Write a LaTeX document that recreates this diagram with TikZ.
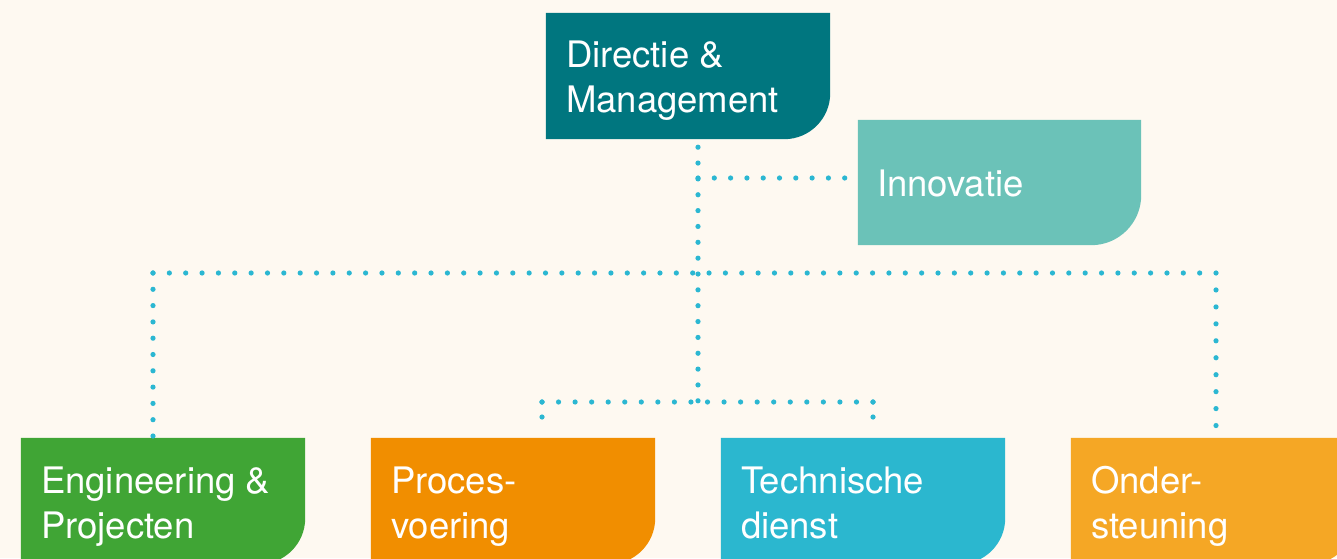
\documentclass[tikz,border=0pt]{standalone}
\usepackage{fontspec}
\setmainfont{TeX Gyre Heros}
\definecolor{bgc}{HTML}{FEF9F1}
\definecolor{dirc}{HTML}{00767F}
\definecolor{innc}{HTML}{6BC2B8}
\definecolor{engc}{HTML}{40A535}
\definecolor{proc}{HTML}{F18E00}
\definecolor{tecc}{HTML}{2BB7CF}
\definecolor{ondc}{HTML}{F5A725}
\definecolor{dotc}{HTML}{2BB7D2}
\newcommand{\orgshape}[3]{%
  \fill[#2] (#1.north west) -- (#1.north east) -- ([yshift=#3]#1.south east)
    arc[start angle=0,end angle=-90,radius=#3] -- (#1.south west) -- cycle;}
\begin{document}
\begin{tikzpicture}[x=1pt,y=1pt,
  orgbox/.style={rectangle,inner sep=0pt,minimum width=284pt,minimum height=126pt},
  txt/.style={anchor=north west,inner sep=0pt,align=left,text=white,
    font=\fontsize{36.5}{45}\selectfont},
  dots/.style={draw=dotc,line width=5.2pt,line cap=round,dash pattern=on 0pt off #1},
  dots/.default=16.35pt]
\useasboundingbox (0,0) rectangle (1337,558);
\fill[bgc] (0,0) rectangle (1337,558);
\clip (0,0) rectangle (1337,558);
% boxes
\node[orgbox] (dir) at (688,482) {};
\node[orgbox,minimum width=283pt,minimum height=125pt] (inn) at (999.5,375.5) {};
\node[orgbox] (eng) at (163,57) {};
\node[orgbox] (pro) at (513,57) {};
\node[orgbox] (tec) at (863,57) {};
\node[orgbox] (ond) at (1213,57) {};
\orgshape{dir}{dirc}{46pt}
\orgshape{inn}{innc}{50pt}
\orgshape{eng}{engc}{46pt}
\orgshape{pro}{proc}{46pt}
\orgshape{tec}{tecc}{46pt}
\orgshape{ond}{ondc}{46pt}
% texts
\node[txt] (dirt) at ([xshift=20pt,yshift=-27.5pt]dir.north west) {Directie \&\\Management};
\node[txt] (innt) at ([xshift=19pt,yshift=-49.5pt]inn.north west) {Innovatie};
\node[txt] (engt) at ([xshift=20pt,yshift=-28.5pt]eng.north west) {Engineering \&\\Projecten};
\node[txt] (prot) at ([xshift=20pt,yshift=-28.5pt]pro.north west) {Proces-\\voering};
\node[txt] (tect) at ([xshift=20pt,yshift=-28.5pt]tec.north west) {Technische\\dienst};
\node[txt] (ondt) at ([xshift=20pt,yshift=-28.5pt]ond.north west) {Onder-\\steuning};
% junctions
\coordinate (jinn) at (698,380);
\coordinate (jmid) at (698,285);
\coordinate (jlow) at (698,155.5);
\coordinate (cl) at (153,285);
\coordinate (cr) at (1216,285);
\coordinate (ll) at (542,156);
\coordinate (lr) at (873,156);
% connectors
\draw[dots=15.85pt] ([yshift=-8pt]dir.south -| jmid) -- (jlow);
\draw[dots=16.3pt] (jinn) -- ([xshift=-12pt]inn.west |- jinn);
\draw[dots=16.354pt] (cl) -- (cr);
\draw[dots=16.3pt] (cl) -- ([yshift=1.5pt]eng.north -| cl);
\draw[dots=16.95pt] (cr) -- ([yshift=12pt]ond.north -| cr);
\draw[dots=16.55pt] (ll) -- (lr);
\draw[dots=15pt] (ll) -- ([yshift=6pt]pro.north -| ll);
\draw[dots=15pt] (lr) -- ([yshift=6pt]tec.north -| lr);
\end{tikzpicture}
\end{document}
